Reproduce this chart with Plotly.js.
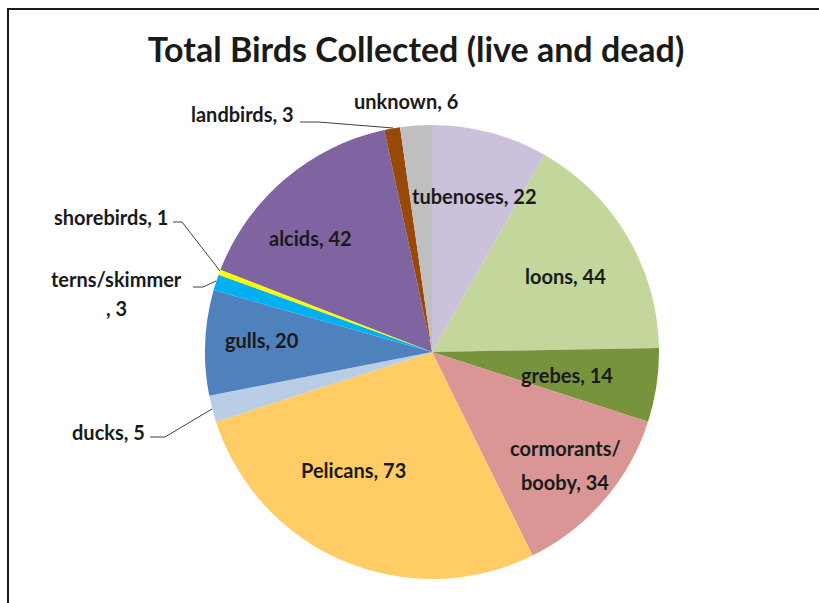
<!DOCTYPE html>
<html>
<head>
<meta charset="utf-8">
<script src="https://cdn.plot.ly/plotly-3.0.1.min.js"></script>
<style>html,body{margin:0;padding:0;background:#fff;}#chart{width:819px;height:603px;}</style>
</head>
<body>
<div id="chart"></div>
<script>
var categories = ["tubenoses", "loons", "grebes", "cormorants/<br>booby", "Pelicans", "ducks", "gulls", "terns/skimmer<br>", "shorebirds", "alcids", "landbirds", "unknown"];
var birdCounts = [22, 44, 14, 34, 73, 5, 20, 3, 1, 42, 3, 6];
var sliceColors = ["#CCC1DA", "#C3D69B", "#77933C", "#D99694", "#FFCC66", "#B9CDE5", "#4F81BD", "#00B0F0", "#FFFF00", "#8064A2", "#984807", "#BFBFBF"];
var titleText = "Total Birds Collected (live and dead)";

var fontFam = "Lato, 'Open Sans', sans-serif";
var labelFont = { family: fontFam, size: 20, color: "#1a1a1a", weight: "bold" };

var trace = {
  type: "pie",
  labels: categories,
  values: birdCounts,
  textinfo: "none",
  sort: false,
  direction: "clockwise",
  rotation: 0,
  marker: { colors: sliceColors, line: { width: 0 } },
  domain: { x: [432 - 227, 432 + 227].map(function (v) { return v / 819; }),
            y: [251 - 227, 251 + 227].map(function (v) { return v / 603; }) },
  hoverinfo: "label+value"
};

// label placement: [slice index, x, y, anchor, line spacing]
var labelSpots = [
  [0, 474, 196, "center", 0],
  [1, 565, 276, "center", 0],
  [2, 567, 375, "center", 0],
  [3, 565, 448, "center", 34],
  [4, 353, 470, "center", 0],
  [5, 147, 432, "right", 0],
  [6, 262, 340, "center", 0],
  [7, 116, 279, "center", 29],
  [8, 170, 217, "right", 0],
  [9, 310, 238, "center", 0],
  [10, 296, 114, "right", 0],
  [11, 406, 101, "center", 0]
];
var annotations = [];
labelSpots.forEach(function (s) {
  var i = s[0];
  var full = categories[i] + ", " + birdCounts[i];
  var lines = full.split("<br>");
  lines.forEach(function (ln, k) {
    annotations.push({ text: ln, x: s[1] / 819, y: 1 - (s[2] + k * s[4]) / 603,
      xref: "paper", yref: "paper", showarrow: false,
      xanchor: s[3], yanchor: "middle", font: labelFont });
  });
});

function seg(pts) {
  var p = "M " + pts.map(function (q) { return q[0] + "," + q[1]; }).join(" L ");
  return { type: "path", xref: "x", yref: "y", path: p, line: { color: "#404040", width: 1 } };
}
var shapes = [
  { type: "rect", xref: "paper", yref: "paper", x0: 8 / 819, x1: 1.05, y0: -0.05, y1: 1 - 9 / 603,
    line: { color: "#1a1a1a", width: 2 }, fillcolor: "rgba(0,0,0,0)" },
  seg([[300, 122], [318, 122], [393, 128]]),
  seg([[173, 222], [182, 222], [220, 271]]),
  seg([[193, 287], [203, 287], [216, 281]]),
  seg([[150, 437], [165, 437], [212, 409]])
];

var layout = {
  width: 819, height: 603,
  margin: { l: 0, r: 0, t: 0, b: 0 },
  paper_bgcolor: "#ffffff",
  showlegend: false,
  title: { text: titleText, x: 416 / 819, xanchor: "center", y: 1 - 50 / 603, yanchor: "middle",
           font: { family: fontFam, size: 34, color: "#1a1a1a", weight: "bold" } },
  xaxis: { range: [0, 819], visible: false, fixedrange: true },
  yaxis: { range: [603, 0], visible: false, fixedrange: true },
  annotations: annotations,
  shapes: shapes
};

Plotly.newPlot("chart", [trace], layout, { staticPlot: true });
</script>
</body>
</html>
